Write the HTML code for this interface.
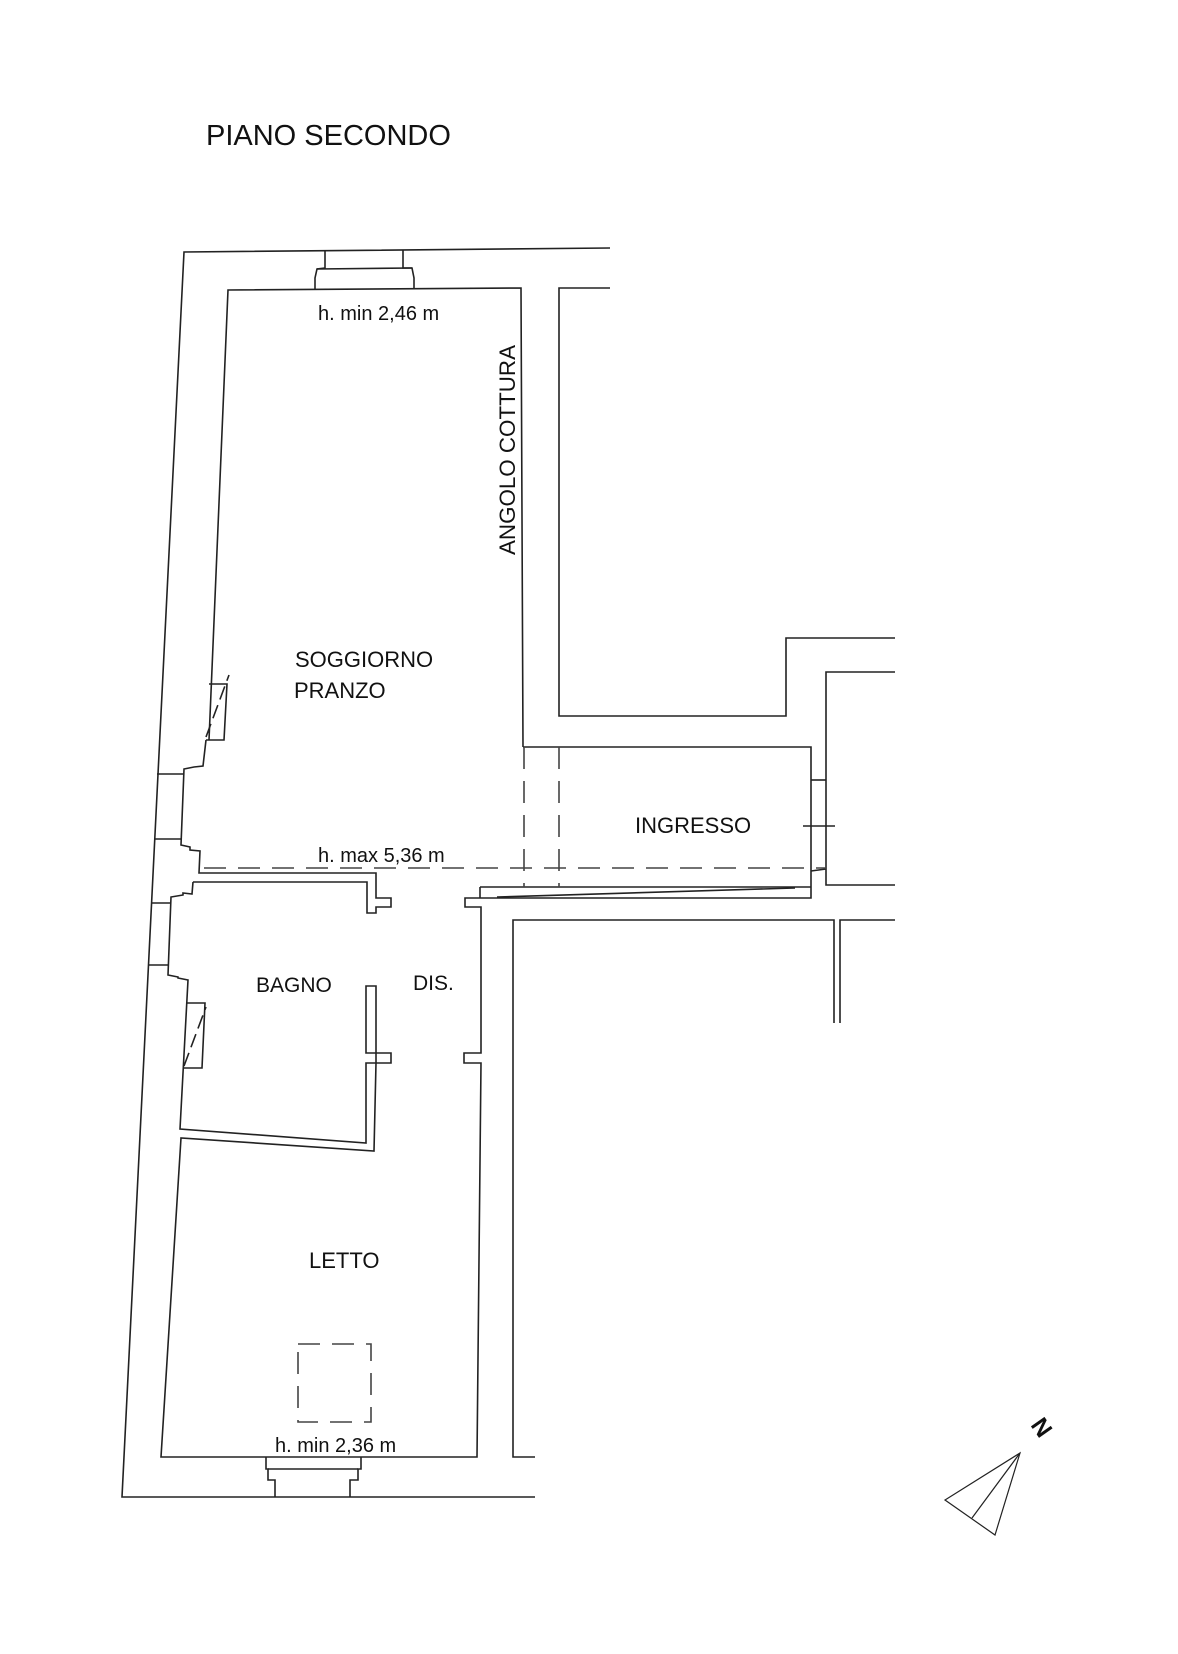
<!DOCTYPE html>
<html><head><meta charset="utf-8"><style>
html,body{margin:0;padding:0;background:#fff;}
svg{display:block;}
text{font-family:"Liberation Sans",Arial,sans-serif;fill:#111;}
</style></head><body>
<svg width="1178" height="1654" viewBox="0 0 1178 1654" xmlns="http://www.w3.org/2000/svg">
<g fill="none" stroke="#222" stroke-width="1.6">
<polyline points="610,248 184,252 122,1497 535,1497"/>
<polyline points="325,251 325,268 317,269 315,278 315,290"/>
<polyline points="403,250 403,268 412,268 414,278 414,289"/>
<line x1="317" y1="269" x2="412" y2="268"/>
<polyline points="523,747 521,288 228,290 209,740"/>
<polyline points="209,684 227,684 224,740 206,740"/>
<line x1="206" y1="737" x2="229" y2="675" stroke-dasharray="14,6"/>
<polyline points="206,740 203,766 194,767 184,769 181,845 190,847 190,850 200,851 199,873 376,873 376,898 391,898 391,907 376,907 376,913 367,913 367,882 193,882"/>
<line x1="157" y1="774" x2="184" y2="774"/>
<line x1="154" y1="839" x2="181" y2="839"/>
<polyline points="193,882 192,894 183,893 183,895 171,897 168,975 178,977 178,978 188,980 180,1129 366,1143 366,1063 376,1063 376,1053 366,1053 366,986 376,986 376,1053 391,1053 391,1063 376,1063 374,1151 181,1138 161,1457 477,1457 481,1063 464,1063 464,1053 481,1053 481,907 465,907 465,898 811,898 811,747 523,747"/>
<line x1="151" y1="903" x2="171" y2="903"/>
<line x1="149" y1="965" x2="168" y2="965"/>
<polyline points="186,1003 205,1003 202,1068 184,1068"/>
<line x1="184" y1="1066" x2="206" y2="1007" stroke-dasharray="14,6"/>
<line x1="480" y1="887" x2="811" y2="887"/>
<line x1="480" y1="887" x2="480" y2="898"/>
<line x1="497" y1="897" x2="795" y2="888"/>
<polyline points="266,1457 266,1469 268,1469 268,1480 275,1480 275,1497"/>
<polyline points="361,1457 361,1469 358,1469 358,1480 350,1480 350,1497"/>
<line x1="268" y1="1469" x2="358" y2="1469"/>
<polyline points="610,288 559,288 559,716 786,716 786,638 895,638"/>
<polyline points="895,672 826,672 826,885 895,885"/>
<line x1="811" y1="780" x2="826" y2="780"/>
<line x1="803" y1="826" x2="835" y2="826"/>
<line x1="811" y1="871" x2="826" y2="869"/>
<polyline points="535,1457 513,1457 513,920 834,920 834,1023"/>
<polyline points="840,1023 840,920 895,920"/>
<g stroke-dasharray="22,12" stroke="#444">
<line x1="204" y1="868" x2="826" y2="868"/>
<line x1="524" y1="747" x2="524" y2="887"/>
<line x1="559" y1="747" x2="559" y2="887"/>
<rect x="298" y="1344" width="73" height="78"/>
</g>
<g stroke-width="1.2">
<polygon points="1020,1453 945,1500 995,1535"/>
<line x1="1020" y1="1453" x2="972" y2="1518"/>
</g>
</g>
<text x="206" y="145" font-size="29">PIANO SECONDO</text>
<text x="318" y="320" font-size="20">h. min 2,46 m</text>
<text x="0" y="0" font-size="22" transform="translate(515,555) rotate(-90)" textLength="210" lengthAdjust="spacingAndGlyphs">ANGOLO COTTURA</text>
<text x="295" y="667" font-size="22">SOGGIORNO</text>
<text x="294" y="698" font-size="22">PRANZO</text>
<text x="318" y="862" font-size="20">h. max 5,36 m</text>
<text x="635" y="833" font-size="22">INGRESSO</text>
<text x="256" y="992" font-size="21">BAGNO</text>
<text x="413" y="990" font-size="21">DIS.</text>
<text x="309" y="1268" font-size="22">LETTO</text>
<text x="275" y="1452" font-size="20">h. min 2,36 m</text>
<text x="0" y="0" font-size="24" font-weight="bold" transform="translate(1030,1425) rotate(55)">N</text>
</svg>
</body></html>
